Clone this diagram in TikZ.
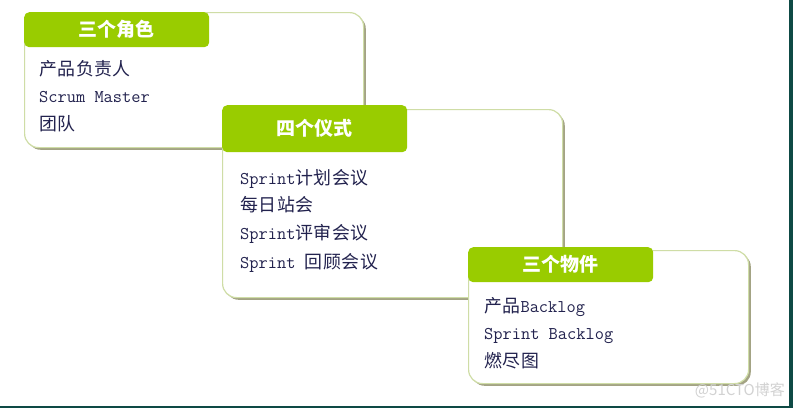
\documentclass[tikz,border=0pt]{standalone}
\usepackage{fontspec}
\newfontfamily\cjk[LetterSpace=3]{Noto Sans CJK SC}
\newfontfamily\cjkh{Noto Sans CJK SC}
\newcommand\zh[1]{{\cjk #1}}
\usetikzlibrary{shadows}
\definecolor{hdr}{HTML}{99CC00}
\definecolor{bordc}{HTML}{CFDDA6}
\definecolor{shadc}{HTML}{A3A384}
\definecolor{txt}{HTML}{22224E}
\definecolor{framec}{HTML}{0E4A45}
\definecolor{wmc}{HTML}{D2D2D2}
\begin{document}
\begin{tikzpicture}[x=1pt,y=-1pt,
  panel/.style={draw=bordc, line width=1.2pt, fill=white, rounded corners=14pt,
    anchor=north west, inner sep=0pt,
    drop shadow={shadow xshift=2.2pt, shadow yshift=-2.2pt, fill=shadc, opacity=1}},
  head/.style={fill=hdr, rounded corners=5pt, anchor=north west, inner sep=0pt,
    minimum width=185pt, text=white, font=\cjkh\bfseries\fontsize{19}{21}\selectfont},
  item/.style={anchor=base west, inner sep=0pt, text=txt,
    font=\ttfamily\fontsize{17.9}{20}\selectfont}
]
\fill[white] (0,0) rectangle (793,408);
\useasboundingbox (0,0) rectangle (793,408);
\fill[framec] (789,0) rectangle (793,408);
\fill[framec] (0,405.5) rectangle (793,408);

% box 1
\node[panel, minimum width=339pt, minimum height=135pt] (b1) at (24,12) {};
\node[head, minimum height=35pt] (h1) at (24,12) {三个角色};
\node[item] (r1) at (39,75) {\zh{产品负责人}};
\node[item] (r2) at (39,102) {Scrum Master};
\node[item] (r3) at (39,130) {\zh{团队}};

% box 2
\node[panel, minimum width=340pt, minimum height=188pt] (b2) at (222,109) {};
\node[head, minimum height=47pt] (h2) at (222,105) {四个仪式};
\node[item] (c1) at (240,184) {Sprint\zh{计划会议}};
\node[item] (c2) at (240,211) {\zh{每日站会}};
\node[item] (c3) at (240,239) {Sprint\zh{评审会议}};
\node[item] (c4) at (240,268) {Sprint \zh{回顾会议}};

% box 3
\node[panel, minimum width=280pt, minimum height=133pt] (b3) at (468,250) {};
\node[head, minimum height=35pt] (h3) at (468,247) {三个物件};
\node[item] (a1) at (484,312) {\zh{产品}Backlog};
\node[item] (a2) at (484,339) {Sprint Backlog};
\node[item] (a3) at (484,367) {\zh{燃尽图}};

% watermark
\node[anchor=east, inner sep=0pt, text=wmc, font=\cjkh\fontsize{15}{17}\selectfont] (wm) at (785,390) {@51CTO博客};
\end{tikzpicture}
\end{document}
